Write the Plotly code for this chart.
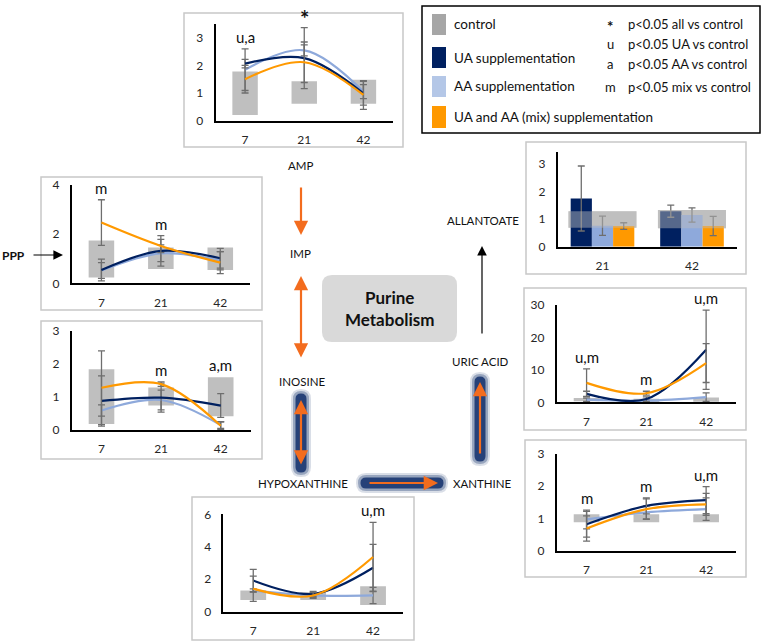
import plotly.graph_objects as go

W, H = 764, 642

days = ['7', '21', '42']
days_allant = ['21', '42']

# AMP
amp_ctrl_lo = [0.22, 0.62, 0.62]
amp_ctrl_hi = [1.79, 1.43, 1.49]
amp_ua = [2.07, 2.27, 1.0]
amp_ua_err = [0.15, 1.1, 0.43]
amp_aa = [1.85, 2.55, 1.06]
amp_aa_err = [0.75, 0.2, 0.25]
amp_mix = [1.51, 2.12, 0.94]
amp_mix_err = [0.5, 0.73, 0.52]
amp_sig = ['u,a', '*', '']

# IMP
imp_ctrl_lo = [0.24, 0.58, 0.54]
imp_ctrl_hi = [1.74, 1.46, 1.46]
imp_ua = [0.54, 1.32, 1.02]
imp_ua_err = [0.44, 0.62, 0.4]
imp_aa = [0.52, 1.22, 0.92]
imp_aa_err = [0.32, 0.34, 0.37]
imp_mix = [2.47, 1.52, 0.84]
imp_mix_err = [0.93, 0.27, 0.45]
imp_sig = ['m', 'm', '']

# INOSINE
ino_ctrl_lo = [0.18, 0.74, 0.42]
ino_ctrl_hi = [1.84, 1.29, 1.6]
ino_ua = [0.88, 0.98, 0.74]
ino_ua_err = [0.76, 0.44, 0.36]
ino_aa = [0.59, 0.91, 0.15]
ino_aa_err = [0.17, 0.3, 0.1]
ino_mix = [1.28, 1.39, 0.13]
ino_mix_err = [1.12, 0.07, 0.12]
ino_sig = ['', 'm', 'a,m']

# HYPOXANTHINE
hyp_ctrl_lo = [0.72, 0.72, 0.41]
hyp_ctrl_hi = [1.3, 1.2, 1.57]
hyp_ua = [1.92, 1.1, 2.71]
hyp_ua_err = [0.69, 0.15, 1.44]
hyp_aa = [1.3, 1.0, 1.0]
hyp_aa_err = [0.1, 0.12, 0.5]
hyp_mix = [1.41, 1.0, 3.37]
hyp_mix_err = [0.78, 0.18, 2.13]
hyp_sig = ['', '', 'u,m']

# ALLANTOATE
all_ctrl_lo = [0.69, 0.67]
all_ctrl_hi = [1.29, 1.33]
all_ua = [1.75, 1.29]
all_ua_err = [1.18, 0.22]
all_aa = [0.76, 1.15]
all_aa_err = [0.35, 0.26]
all_mix = [0.75, 0.75]
all_mix_err = [0.12, 0.35]

# URIC ACID
uric_ctrl_lo = [0.3, 0.1, 0.2]
uric_ctrl_hi = [1.3, 1.1, 1.5]
uric_ua = [2.6, 1.0, 16.2]
uric_ua_err = [0.8, 0.7, 12.2]
uric_aa = [0.8, 0.5, 1.6]
uric_aa_err = [0.5, 0.4, 1.3]
uric_mix = [6.0, 2.8, 12.1]
uric_mix_err = [4.3, 0.6, 6.0]
uric_sig = ['u,m', 'm', 'u,m']

# XANTHINE
xan_ctrl_lo = [0.88, 0.88, 0.88]
xan_ctrl_hi = [1.13, 1.13, 1.13]
xan_ua = [0.82, 1.39, 1.57]
xan_ua_err = [0.4, 0.25, 0.42]
xan_aa = [0.97, 1.19, 1.29]
xan_aa_err = [0.29, 0.2, 0.35]
xan_mix = [0.69, 1.29, 1.44]
xan_mix_err = [0.39, 0.32, 0.34]
xan_sig = ['m', 'm', 'u,m']

legend_names = ['control', 'UA supplementation', 'AA supplementation',
                'UA and AA (mix) supplementation']
sig_symbols = ['*', 'u', 'a', 'm']
sig_texts = ['p<0.05 all vs control', 'p<0.05 UA vs control',
             'p<0.05 AA vs control', 'p<0.05 mix vs control']

NAVY = '#002060'
LIGHT = '#8EA9DB'
ORANGE = '#FF9900'
GREY = '#BFBFBF'
ERRC = '#6E6E6E'
ARROW = '#F36C1E'
FONT = 'Lato'
TXT = '#262626'

fig = go.Figure()
shapes = []
annots = []


def axname(n):
    return ('x', 'y') if n == 1 else (f'x{n}', f'y{n}')


def axes(n, cats, box, yrange, yticks):
    xa, ya = axname(n)
    x0, x1, ytop, ybot = box
    key = '' if n == 1 else str(n)
    fig.update_layout(**{
        'xaxis' + key: dict(domain=[x0 / W, x1 / W], anchor=ya, type='category',
                            categoryorder='array', categoryarray=cats,
                            range=[-0.5, len(cats) - 0.5], showline=True,
                            linecolor='black', linewidth=1.6, showgrid=False,
                            ticks='outside', ticklen=7, tickcolor='rgba(0,0,0,0)',
                            tickfont=dict(size=12, color=TXT, family=FONT),
                            automargin=False, fixedrange=True),
        'yaxis' + key: dict(domain=[1 - ybot / H, 1 - ytop / H], anchor=xa,
                            range=yrange, tickvals=yticks, showline=True,
                            linecolor='black', linewidth=1.6, showgrid=False,
                            zeroline=False, ticks='outside', ticklen=8,
                            tickcolor='rgba(0,0,0,0)',
                            tickfont=dict(size=12, color=TXT, family=FONT),
                            automargin=False, fixedrange=True),
    })


def border(b):
    shapes.append(dict(type='rect', xref='paper', yref='paper',
                       x0=b[0] / W, x1=b[2] / W, y0=1 - b[1] / H, y1=1 - b[3] / H,
                       line=dict(color='#C8C8C8', width=1.5), layer='below'))


def text_at(t, x, y, size, anchor='center', **kw):
    annots.append(dict(x=x / W, y=1 - y / H, xref='paper', yref='paper', text=t,
                       showarrow=False, xanchor=anchor, yanchor='middle',
                       font=dict(size=size, color='#111', family=FONT), **kw))


def line_panel(n, lo, hi, ua, ua_e, aa, aa_e, mix, mix_e, sig, box, brd, yrange, yticks):
    xa, ya = axname(n)
    fig.add_trace(go.Bar(x=days, y=[h - l for h, l in zip(hi, lo)], base=lo, width=0.43,
                         marker=dict(color=GREY, line=dict(width=0)),
                         xaxis=xa, yaxis=ya, showlegend=False))
    for vals, errs, col in [(aa, aa_e, LIGHT), (ua, ua_e, NAVY), (mix, mix_e, ORANGE)]:
        fig.add_trace(go.Scatter(x=days, y=vals, mode='lines',
                                 line=dict(color=col, width=2.2, shape='spline'),
                                 error_y=dict(type='data', array=errs, color=ERRC,
                                              thickness=1.3, width=3.5),
                                 xaxis=xa, yaxis=ya, showlegend=False))
    for i, s in enumerate(sig):
        if s:
            top = max(ua[i] + ua_e[i], aa[i] + aa_e[i], mix[i] + mix_e[i], hi[i])
            star = s == '*'
            annots.append(dict(x=i, y=top, xref=xa, yref=ya,
                               text='<b>*</b>' if star else s,
                               showarrow=False, xanchor='center', yanchor='bottom',
                               yshift=-6 if star else 1,
                               font=dict(size=22 if star else 15, color='#111',
                                         family=FONT)))
    axes(n, days, box, yrange, yticks)
    border(brd)


line_panel(1, amp_ctrl_lo, amp_ctrl_hi, amp_ua, amp_ua_err, amp_aa, amp_aa_err,
           amp_mix, amp_mix_err, amp_sig, (215.5, 393, 24, 121), (184, 13, 403, 147),
           [0, 3.5], [0, 1, 2, 3])
line_panel(2, imp_ctrl_lo, imp_ctrl_hi, imp_ua, imp_ua_err, imp_aa, imp_aa_err,
           imp_mix, imp_mix_err, imp_sig, (71.7, 250, 185, 283.3), (41, 177, 262, 310),
           [0, 4], [0, 2, 4])
line_panel(3, ino_ctrl_lo, ino_ctrl_hi, ino_ua, ino_ua_err, ino_aa, ino_aa_err,
           ino_mix, ino_mix_err, ino_sig, (71.7, 250.5, 331, 430), (41, 321, 262, 459),
           [0, 3], [0, 1, 2, 3])
line_panel(4, hyp_ctrl_lo, hyp_ctrl_hi, hyp_ua, hyp_ua_err, hyp_aa, hyp_aa_err,
           hyp_mix, hyp_mix_err, hyp_sig, (223.3, 403, 514.3, 611.7), (192, 497, 414, 640),
           [0, 6], [0, 2, 4, 6])
line_panel(6, uric_ctrl_lo, uric_ctrl_hi, uric_ua, uric_ua_err, uric_aa, uric_aa_err,
           uric_mix, uric_mix_err, uric_sig, (556.7, 736, 305, 402.3), (524, 288, 746, 430),
           [0, 30], [0, 10, 20, 30])
line_panel(7, xan_ctrl_lo, xan_ctrl_hi, xan_ua, xan_ua_err, xan_aa, xan_aa_err,
           xan_mix, xan_mix_err, xan_sig, (556.7, 736, 454, 550.7), (525, 440, 746, 577),
           [0, 3], [0, 1, 2, 3])

# ALLANTOATE: grouped bars + wide control band
fig.add_trace(go.Bar(x=days_allant, y=[h - l for h, l in zip(all_ctrl_hi, all_ctrl_lo)],
                     base=all_ctrl_lo, width=0.76, offset=-0.38,
                     marker=dict(color=GREY, line=dict(width=0)),
                     xaxis='x5', yaxis='y5', showlegend=False))
for vals, errs, col, off in [(all_ua, all_ua_err, NAVY, -0.355),
                             (all_aa, all_aa_err, LIGHT, -0.118),
                             (all_mix, all_mix_err, ORANGE, 0.119)]:
    fig.add_trace(go.Bar(x=days_allant, y=vals, width=0.237, offset=off,
                         marker=dict(color=col, line=dict(width=0)),
                         error_y=dict(type='data', array=errs, color=ERRC,
                                      thickness=1.3, width=3.5),
                         xaxis='x5', yaxis='y5', showlegend=False))
fig.add_trace(go.Bar(x=days_allant, y=[h - l for h, l in zip(all_ctrl_hi, all_ctrl_lo)],
                     base=all_ctrl_lo, width=0.76, offset=-0.38, opacity=0.45,
                     marker=dict(color=GREY, line=dict(width=0)),
                     xaxis='x5', yaxis='y5', showlegend=False))
axes(5, days_allant, (557.7, 736.7, 151.7, 246.7), [0, 3.45], [0, 1, 2, 3])
border((526, 142, 746, 274))

# legend box
shapes.append(dict(type='rect', xref='paper', yref='paper', x0=422 / W, x1=760 / W,
                   y0=1 - 6 / H, y1=1 - 133 / H, line=dict(color='black', width=1.5)))
sw_cols = ['#A6A6A6', NAVY, '#B4C7E7', ORANGE]
sw_y = [(14, 35), (47, 68), (76, 97), (106, 128)]
for name, col, (ya0, ya1) in zip(legend_names, sw_cols, sw_y):
    shapes.append(dict(type='rect', xref='paper', yref='paper', x0=432 / W, x1=446 / W,
                       y0=1 - ya0 / H, y1=1 - ya1 / H, fillcolor=col, line=dict(width=0)))
    text_at(name, 452, (ya0 + ya1) / 2, 13.5, anchor='left')
for sym, txt, yy in zip(sig_symbols, sig_texts, [24, 44, 64, 87]):
    if sym == '*':
        text_at('<b>*</b>', 610, yy + 2, 15)
    else:
        text_at(sym, 610, yy, 13)
    text_at(txt, 626, yy, 13, anchor='left')


def rounded(x0, y0, x1, y1, r):
    rx, ry = r / W, r / H
    X0, X1, Y0, Y1 = x0 / W, x1 / W, 1 - y0 / H, 1 - y1 / H
    return (f'M {X0 + rx},{Y0} L {X1 - rx},{Y0} Q {X1},{Y0} {X1},{Y0 - ry} '
            f'L {X1},{Y1 + ry} Q {X1},{Y1} {X1 - rx},{Y1} L {X0 + rx},{Y1} '
            f'Q {X0},{Y1} {X0},{Y1 + ry} L {X0},{Y0 - ry} Q {X0},{Y0} {X0 + rx},{Y0} Z')


# purine metabolism box
shapes.append(dict(type='path', xref='paper', yref='paper',
                   path=rounded(322, 275, 457, 342, 10), fillcolor='#D9D9D9',
                   line=dict(width=0), layer='below'))
text_at('<b>Purine<br>Metabolism</b>', 389.5, 308, 17)

# glowing (navy) halos behind arrows
for (gx0, gy0, gx1, gy1) in [(301, 399, 301, 467), (366, 483, 438, 483), (480, 382, 480, 456)]:
    for pad, op in [(10, 0.15), (8, 0.3), (5.5, 0.75)]:
        shapes.append(dict(type='path', xref='paper', yref='paper',
                           path=rounded(gx0 - pad, gy0 - pad, gx1 + pad, gy1 + pad, pad),
                           fillcolor=NAVY, opacity=op, line=dict(width=0), layer='below'))

# pathway labels
labels = [('AMP', 300, 166), ('IMP', 300, 253), ('INOSINE', 302, 382),
          ('HYPOXANTHINE', 303, 483), ('XANTHINE', 482, 483), ('URIC ACID', 480, 361),
          ('ALLANTOATE', 483, 220)]
for t, lx, ly in labels:
    text_at(t, lx, ly, 11.5)
text_at('<b>PPP</b>', 13, 255, 12)

# arrows: (head_x, head_y, tail_dx, tail_dy, colour, width, both)
arrows = [(301, 235, 0, -49, ARROW, 2.2, False),
          (301, 276, 0, 83, ARROW, 2.2, True),
          (301, 400, 0, 66, ARROW, 2.2, True),
          (438, 483, -70, 0, ARROW, 2.2, False),
          (480, 382, 0, 73, ARROW, 2.2, False),
          (482, 246, 0, 89, 'black', 1.2, False),
          (63, 255, -31, 0, 'black', 1.2, False)]
for hx, hy, dx, dy, col, wd, both in arrows:
    annots.append(dict(x=hx / W, y=1 - hy / H, xref='paper', yref='paper', text='',
                       showarrow=True, ax=dx, ay=dy, axref='pixel', ayref='pixel',
                       arrowcolor=col, arrowwidth=wd, arrowhead=2,
                       arrowsize=1.3 if wd > 2 else 1.6,
                       arrowside='end+start' if both else 'end'))

fig.update_layout(width=W, height=H, margin=dict(l=0, r=0, t=0, b=0),
                  paper_bgcolor='white', plot_bgcolor='rgba(0,0,0,0)',
                  barmode='overlay', showlegend=False,
                  shapes=shapes, annotations=annots,
                  font=dict(family=FONT, color=TXT))

fig.write_html("out.html", config={'displayModeBar': False},
               post_script="document.body.style.margin='0';")
